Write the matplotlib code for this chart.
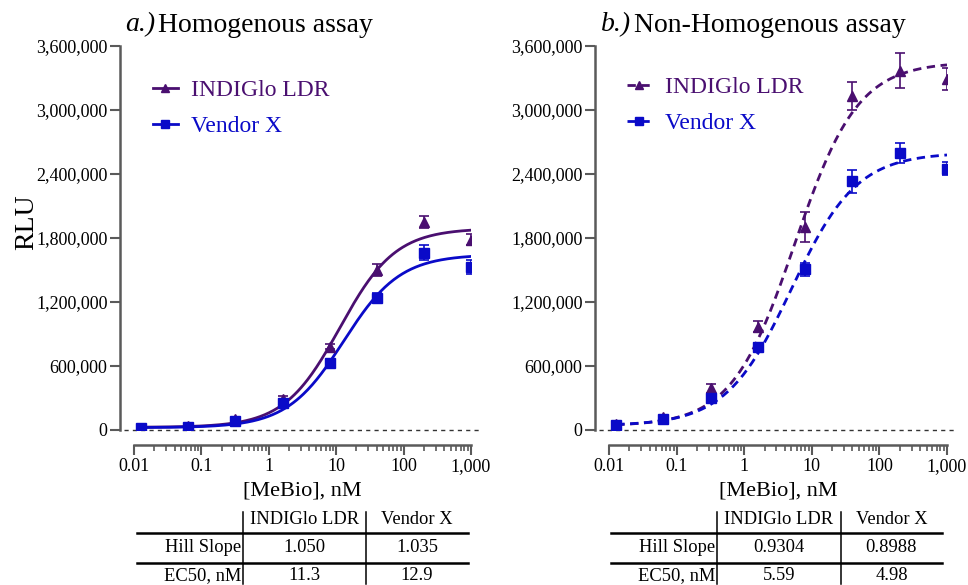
import numpy as np
import matplotlib.pyplot as plt
from matplotlib.lines import Line2D

plt.rcParams['font.family'] = ['Liberation Serif', 'DejaVu Serif']

# MeBio concentrations, nM (5-fold dilution)
conc = [0.0128, 0.064, 0.32, 1.6, 8, 40, 200, 1000]

# a.) homogenous assay
hom_indi = [22000, 35000, 100000, 290000, 780000, 1500000, 1950000, 1785000]
hom_indi_err = [8000, 8000, 15000, 25000, 25000, 55000, 60000, 55000]
hom_vend = [15000, 30000, 85000, 250000, 630000, 1235000, 1660000, 1530000]
hom_vend_err = [8000, 8000, 12000, 20000, 30000, 45000, 70000, 65000]

# b.) non-homogenous assay
non_indi = [53000, 120000, 390000, 970000, 1900000, 3130000, 3370000, 3290000]
non_indi_err = [10000, 15000, 45000, 55000, 140000, 130000, 160000, 100000]
non_vend = [50000, 103000, 297000, 780000, 1505000, 2330000, 2600000, 2450000]
non_vend_err = [10000, 12000, 20000, 35000, 65000, 105000, 95000, 60000]

# fit parameters (hill slope, EC50 from tables; bottom/top)
hom_hill = [1.050, 1.035]
hom_ec50 = [11.3, 12.9]
hom_bottom = [25000, 22000]
hom_top = [1890000, 1645000]
non_hill = [0.9304, 0.8988]
non_ec50 = [5.59, 4.98]
non_bottom = [38000, 40000]
non_top = [3450000, 2600000]

series_names = ['INDIGlo LDR', 'Vendor X']
colors = ['#4a0f70', '#0a0ac8']
markers = ['^', 's']

yticks = [0, 600000, 1200000, 1800000, 2400000, 3000000, 3600000]
xticks = [0.01, 0.1, 1, 10, 100, 1000]
xticklabels = ['0.01', '0.1', '1', '10', '100', '1,000']

W, H = 968, 585
fig = plt.figure(figsize=(W / 100, H / 100), dpi=100)
SPINE = '#5a5a5a'


def fx(px):
    return px / W


def fy(py):
    return 1 - py / H


def hill_curve(x, bottom, top, ec50, hill):
    return bottom + (top - bottom) / (1 + (ec50 / x) ** hill)


def panel(left, right, tag, title, title_x, datasets, fits, ls, leg_xy):
    ax = fig.add_axes([fx(left), fy(430), fx(right - left), fy(46) - fy(430)])
    ax.set_xscale('log')
    ax.set_xlim(0.01, 1000)
    ax.set_ylim(0, 3600000)
    for s in ['top', 'right']:
        ax.spines[s].set_visible(False)
    ax.spines['left'].set_position(('outward', 10))
    ax.spines['bottom'].set_position(('outward', 11))
    for s in ['left', 'bottom']:
        ax.spines[s].set_color(SPINE)
        ax.spines[s].set_linewidth(1.8)
    ax.set_yticks(yticks)
    ax.set_yticklabels([f'{v:,}' for v in yticks])
    ax.set_xticks(xticks)
    ax.set_xticklabels(xticklabels)
    ax.tick_params(which='major', length=7, width=1.5, color=SPINE,
                   labelsize=13, pad=2)
    ax.tick_params(which='minor', length=4, width=1.2, color=SPINE)
    ax.set_xlabel('[MeBio], nM', fontsize=16, labelpad=5)
    ax.axhline(0, xmin=-0.03, xmax=1.03, color='#333333', lw=1,
               ls=(0, (3, 3)), clip_on=False, zorder=1)

    xs = np.logspace(np.log10(conc[0]), np.log10(conc[-1]), 300)
    for i, (vals, errs) in enumerate(datasets):
        bottom, top, ec50, hill = fits[i]
        ax.errorbar(conc, vals, yerr=errs, fmt=markers[i], color=colors[i],
                    ms=7, capsize=3.5, elinewidth=1.2, capthick=1.2, zorder=3)
        ax.plot(xs, hill_curve(xs, bottom, top, ec50, hill), color=colors[i],
                lw=2, ls=ls, zorder=2)

    handles = [Line2D([], [], color=colors[i], ls=ls, lw=2, marker=markers[i],
                      ms=5.5) for i in range(2)]
    leg = ax.legend(handles, series_names, loc='upper left',
                    bbox_to_anchor=leg_xy, borderaxespad=0, borderpad=0,
                    frameon=False, fontsize=17, handlelength=1.05,
                    handletextpad=0.55, labelspacing=0.6)
    for t, c in zip(leg.get_texts(), colors):
        t.set_color(c)
    fig.text(fx(title_x - 3), fy(25), tag, ha='right', va='center',
             fontsize=20, style='italic')
    fig.text(fx(title_x), fy(25), title, ha='left', va='center', fontsize=20)
    return ax


ax1 = panel(134, 471, 'a.)', 'Homogenous assay', 158,
            [(hom_indi, hom_indi_err), (hom_vend, hom_vend_err)],
            list(zip(hom_bottom, hom_top, hom_ec50, hom_hill)), '-',
            (0.056, 0.912))
ax1.set_ylabel('RLU', fontsize=20)
ax1.yaxis.set_label_coords(-0.28, 0.54)

ax2 = panel(609, 947, 'b.)', 'Non-Homogenous assay', 634,
            [(non_indi, non_indi_err), (non_vend, non_vend_err)],
            list(zip(non_bottom, non_top, non_ec50, non_hill)), (0, (3, 2)),
            (0.053, 0.920))


def table(x0, c1, c2, x1, hill, ec50):
    fs = 13.3
    rows_y = [520, 548, 576]
    fig.text(fx((c1 + c2) / 2), fy(rows_y[0]), series_names[0], ha='center',
             va='center', fontsize=fs)
    fig.text(fx((c2 + x1) / 2), fy(rows_y[0]), series_names[1], ha='center',
             va='center', fontsize=fs)
    fig.text(fx(c1 - 2), fy(rows_y[1]), 'Hill Slope', ha='right', va='center',
             fontsize=fs)
    fig.text(fx(c1 - 2), fy(rows_y[2]), 'EC50, nM', ha='right', va='center',
             fontsize=fs)
    for j, (h, e) in enumerate(zip(hill, ec50)):
        cx = (c1 + c2) / 2 if j == 0 else (c2 + x1) / 2
        fig.text(fx(cx), fy(rows_y[1]), h, ha='center', va='center',
                 fontsize=fs)
        fig.text(fx(cx), fy(rows_y[2]), e, ha='center', va='center',
                 fontsize=fs)
    for yy in [533, 563]:
        fig.add_artist(Line2D([fx(x0), fx(x1)], [fy(yy), fy(yy)],
                              color='black', lw=1.8))
    for xx in [c1, c2]:
        fig.add_artist(Line2D([fx(xx), fx(xx)], [fy(512), fy(584)],
                              color='black', lw=1.1))


table(137, 243, 366, 468, ['1.050', '1.035'], ['11.3', '12.9'])
table(611, 717, 841, 942, ['0.9304', '0.8988'], ['5.59', '4.98'])

fig.savefig('out.png', dpi=100)
